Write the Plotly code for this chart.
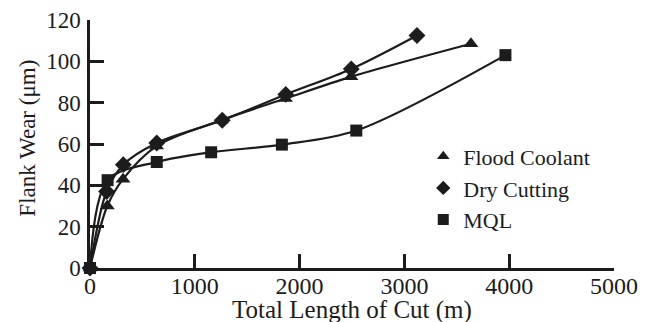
import plotly.graph_objects as go

# Data
flood_x = [0, 165, 315, 635, 1250, 1865, 2490, 3635]
flood_y = [0, 30, 43, 59, 71.5, 82, 92.5, 108.5]

dry_x = [0, 158, 318, 637, 1262, 1868, 2493, 3120]
dry_y = [0, 37, 50, 60.5, 71.5, 84, 96.3, 112.5]

mql_x = [0, 168, 637, 1156, 1831, 2541, 3964]
mql_y = [0, 42.5, 51.3, 56, 59.7, 66.5, 103]

x_ticks = [0, 1000, 2000, 3000, 4000, 5000]
y_ticks = [0, 20, 40, 60, 80, 100, 120]

FONT = "Liberation Serif, Times New Roman, Times, serif"
INK = "#1c1c1c"

fig = go.Figure()

series = [
    ("Flood Coolant", flood_x, flood_y, "triangle-up", 13),
    ("Dry Cutting", dry_x, dry_y, "diamond", 13),
    ("MQL", mql_x, mql_y, "square", 12),
]

for name, xs, ys, sym, sz in series:
    fig.add_trace(go.Scatter(
        x=xs, y=ys, mode="lines+markers", name=name, showlegend=False,
        line=dict(color=INK, width=2.2, shape="spline", smoothing=0.9),
        marker=dict(symbol=sym, size=sz, color=INK),
        cliponaxis=False,
    ))

for name, xs, ys, sym, sz in series:
    fig.add_trace(go.Scatter(
        x=[None], y=[None], mode="markers", name=name,
        marker=dict(symbol=sym, size=11, color=INK),
    ))

fig.update_layout(
    width=645, height=322,
    margin=dict(l=90, r=31, t=20, b=54),
    paper_bgcolor="white", plot_bgcolor="white",
    font=dict(family=FONT, color=INK, size=23),
    showlegend=True,
    legend=dict(
        x=0.636, y=0.534, xanchor="left", yanchor="top",
        font=dict(family=FONT, size=22, color=INK),
        bgcolor="rgba(0,0,0,0)", tracegroupgap=0, itemwidth=30,
    ),
    annotations=[
        dict(text="Total Length of Cut (m)", xref="paper", yref="paper",
             x=0.5, y=-0.168, xanchor="center", yanchor="middle", showarrow=False,
             font=dict(family=FONT, size=25, color=INK)),
        dict(text="Flank Wear (μm)", xref="paper", yref="paper",
             x=-0.12, y=0.522, xanchor="center", yanchor="middle", showarrow=False,
             textangle=-90, font=dict(family=FONT, size=23, color=INK)),
    ],
)

fig.update_xaxes(
    range=[0, 5000], tickvals=x_ticks, ticktext=[str(v) for v in x_ticks],
    showgrid=False, zeroline=False, automargin=False,
    showline=True, linecolor=INK, linewidth=2.5,
    ticks="inside", ticklen=14, tickwidth=2.5, tickcolor=INK,
    ticklabelstandoff=-6,
    tickfont=dict(family=FONT, size=24, color=INK),
)
fig.update_yaxes(
    range=[0, 120], tickvals=y_ticks, ticktext=[str(v) for v in y_ticks],
    showgrid=False, zeroline=False, automargin=False,
    showline=True, linecolor=INK, linewidth=2.5,
    ticks="inside", ticklen=14, tickwidth=2.5, tickcolor=INK,
    ticklabelstandoff=2,
    tickfont=dict(family=FONT, size=23, color=INK),
)

fig.write_html(
    "out.html",
    config={"displayModeBar": False},
    post_script="document.body.style.margin='0';document.body.style.overflow='hidden';",
)
